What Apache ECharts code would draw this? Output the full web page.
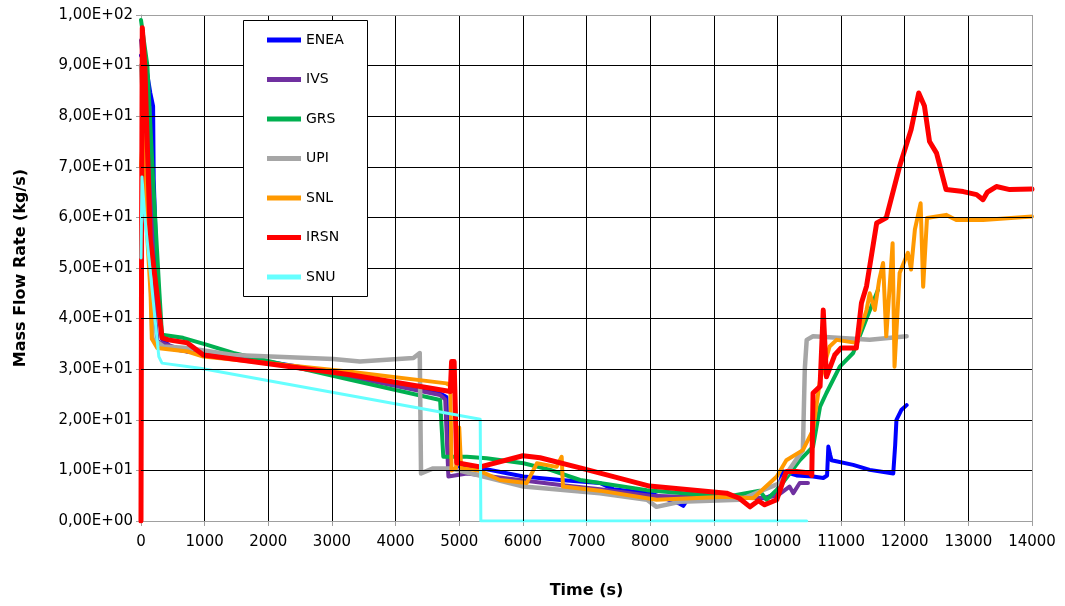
<!DOCTYPE html>
<html>
<head>
<meta charset="utf-8">
<script src="https://cdn.jsdelivr.net/npm/echarts@6/dist/echarts.min.js"></script>
<style>
  html, body { margin: 0; padding: 0; background: #fff; }
  #chart { width: 1065px; height: 606px; }
</style>
</head>
<body>
<div id="chart"></div>
<script>
// [time (s), mass flow rate (kg/s)]
var enea = [[0,92],[30,92],[70,90.5],[146,84.6],[190,82],[200,67.5],[260,45],[330,36],[500,34],[730,33.5],[1450,32.6],[3290,28.8],[4700,25.2],[4800,24.5],[4830,10],[5120,11],[6010,8.8],[6590,8.1],[7210,7.5],[7420,6.3],[8000,5.5],[8450,3.5],[8520,3],[8600,4.5],[9200,4.8],[9800,4.5],[9990,5.5],[10090,9.8],[10300,9],[10560,8.8],[10720,8.5],[10780,9],[10800,14.7],[10830,13],[10850,12],[11190,11.1],[11450,10.1],[11820,9.4],[11850,15],[11870,20],[11950,22],[12030,22.9]];
var ivs = [[0,95],[40,90],[150,70],[225,40],[260,35.5],[350,35.1],[730,33.5],[1450,32.4],[3290,28.5],[4700,24.9],[4780,24],[4830,8.8],[5120,9.4],[6590,7.1],[7210,6.3],[8000,5],[9000,4.6],[9800,4.6],[10000,5],[10190,6.8],[10250,5.5],[10350,7.5],[10480,7.5]];
var grs = [[0,99],[30,99],[100,90],[200,65],[290,45],[330,36.8],[660,36.2],[1040,34.8],[1450,33.2],[3290,27.9],[4700,23.9],[4750,12.7],[5120,12.7],[5430,12.4],[6010,11.4],[6430,10.1],[6900,8.1],[7950,6.1],[9200,4.8],[9720,6],[9830,4.2],[10040,6.8],[10350,12],[10560,14.7],[10670,22.6],[10770,25.3],[10980,30.5],[11190,33.2],[11400,40],[11580,45.7]];
var upi = [[0,90],[100,70],[180,36],[350,34.5],[730,34.2],[1450,32.8],[3020,32],[3440,31.5],[4280,32.2],[4380,33.2],[4400,9.4],[4590,10.4],[4860,10.4],[5380,8.8],[6010,6.8],[7210,5.5],[7950,4.2],[8100,2.8],[8470,3.8],[9410,4.2],[10040,7.5],[10400,14],[10430,30],[10460,35.8],[10560,36.5],[11450,35.8],[12030,36.5]];
var snl = [[0,70],[30,76],[80,60],[150,45],[170,36],[195,35.8],[255,34.2],[730,33.5],[980,32.5],[3290,29.5],[4800,27.2],[4860,26.8],[4880,10],[4950,10.5],[5000,18.5],[5030,10.5],[5300,10],[5640,8.1],[6060,7.5],[6220,11.4],[6530,10.7],[6610,12.7],[6630,6.8],[7210,6],[8100,4.2],[9200,4.8],[9620,4.5],[9990,8.8],[10140,12],[10400,14],[10560,18],[10670,27.9],[10820,34.5],[10930,35.8],[11240,35.2],[11400,41.7],[11450,45],[11530,41.7],[11600,47.7],[11660,51],[11710,36.5],[11810,54.9],[11840,30.5],[11920,49],[12050,53],[12100,49.7],[12160,57.6],[12250,62.8],[12290,46.3],[12350,59.9],[12650,60.5],[12810,59.5],[13230,59.5],[14000,60.2]];
var irsn = [[0,0],[10,60],[20,97.5],[60,90],[146,55.6],[250,45],[330,36.2],[430,35.8],[730,35.2],[980,32.8],[3290,28.9],[4860,25.6],[4880,31.5],[4920,31.5],[4960,11.5],[5330,10.7],[6000,12.9],[6270,12.5],[6900,10.5],[7990,6.9],[9200,5.5],[9400,4.5],[9570,2.8],[9700,4],[9800,3.2],[9990,4.2],[10140,9.8],[10300,9.8],[10510,9.5],[10540,9],[10560,25.3],[10670,26.6],[10720,41.7],[10770,28.5],[10900,32.8],[11000,34.2],[11240,34.2],[11320,43.1],[11400,46.4],[11560,58.9],[11710,59.9],[11920,70.1],[12100,77.3],[12220,84.6],[12310,82],[12390,75],[12500,72.7],[12650,65.5],[12920,65.1],[13130,64.5],[13230,63.5],[13300,65],[13440,66.1],[13650,65.5],[14000,65.6]];
var snu = [[0,52],[15,68],[60,60],[280,32.5],[330,31.2],[930,30.2],[5330,20.1],[5340,0],[10460,0]];

// gridline positions (axis units)
var xGrid = [1000, 2000, 3000, 4000, 5000, 6000, 7000, 8000, 9000, 10000, 11000, 12000, 13000];
var yGrid = [10, 20, 30, 40, 50, 60, 70, 80, 90];

var names = ['ENEA', 'IVS', 'GRS', 'UPI', 'SNL', 'IRSN', 'SNU'];
var datas = [enea, ivs, grs, upi, snl, irsn, snu];
var colors = ['#0000FF', '#7030A0', '#00B050', '#A6A6A6', '#FF9900', '#FF0000', '#66FFFF'];
var widths = [4, 4, 4, 4.5, 4, 5, 3];

var font = 'DejaVu Sans';

function sciLabel(v) {
  if (v === 0) return '0,00E+00';
  var e = Math.floor(Math.log10(v) + 1e-9);
  var m = (v / Math.pow(10, e)).toFixed(2).replace('.', ',');
  return m + 'E+' + (e < 10 ? '0' + e : e);
}

var chart = echarts.init(document.getElementById('chart'));

var series = names.map(function (n, i) {
  return {
    name: n,
    type: 'line',
    data: datas[i],
    symbol: 'none',
    color: colors[i],
    z: 3,
    lineStyle: { width: widths[i], color: colors[i], join: 'round', cap: 'round' }
  };
});

// grid lines + top/right frame drawn as mark lines on a hidden helper series
var gridLines = [];
xGrid.forEach(function (v) { gridLines.push({ xAxis: v }); });
yGrid.forEach(function (v) { gridLines.push({ yAxis: v }); });
gridLines.push({ xAxis: 14000, lineStyle: { color: '#A0A0A0' } });
gridLines.push({ yAxis: 100, lineStyle: { color: '#A0A0A0' } });

series.unshift({
  name: 'grid',
  type: 'line',
  data: [[0, 0]],
  symbol: 'none',
  z: 1,
  lineStyle: { width: 0 },
  markLine: {
    silent: true,
    symbol: ['none', 'none'],
    label: { show: false },
    lineStyle: { color: '#000', width: 1, type: 'solid' },
    emphasis: { disabled: true },
    data: gridLines
  }
});

var option = {
  animation: false,
  textStyle: { fontFamily: font },
  grid: { left: 141, top: 15, right: 33, bottom: 85 },
  // white box behind the legend
  graphic: [{
    type: 'rect',
    left: 243, top: 20, z: 10,
    shape: { width: 124, height: 276 },
    style: { fill: '#fff', stroke: '#000', lineWidth: 1 }
  }],
  legend: {
    orient: 'vertical',
    left: 243, top: 20,
    z: 20,
    data: names.map(function (n) { return { name: n, icon: 'rect' }; }),
    itemWidth: 34, itemHeight: 5, itemGap: 25.5,
    padding: [13, 22, 12, 24],
    textStyle: { fontFamily: font, fontSize: 14, color: '#000', lineHeight: 14 }
  },
  xAxis: {
    type: 'value',
    min: 0, max: 14000, interval: 1000,
    name: 'Time (s)',
    nameLocation: 'middle',
    nameGap: 62,
    nameTextStyle: { fontFamily: font, fontSize: 16, fontWeight: 'bold', color: '#000' },
    axisLine: { show: true, lineStyle: { color: '#A0A0A0', width: 1 } },
    axisTick: { show: true, length: 5, lineStyle: { color: '#A0A0A0', width: 1 } },
    axisLabel: { fontFamily: font, fontSize: 15, color: '#000', margin: 14, formatter: function (v) { return String(v); } },
    splitLine: { show: false }
  },
  yAxis: {
    type: 'value',
    min: 0, max: 100, interval: 10,
    name: 'Mass Flow Rate (kg/s)',
    nameLocation: 'middle',
    nameGap: 112,
    nameTextStyle: { fontFamily: font, fontSize: 16, fontWeight: 'bold', color: '#000' },
    axisLine: { show: true, lineStyle: { color: '#A0A0A0', width: 1 } },
    axisTick: { show: true, length: 5, lineStyle: { color: '#A0A0A0', width: 1 } },
    axisLabel: { fontFamily: font, fontSize: 15, color: '#000', margin: 8, formatter: sciLabel },
    splitLine: { show: false }
  },
  series: series
};

chart.setOption(option);
</script>
</body>
</html>
